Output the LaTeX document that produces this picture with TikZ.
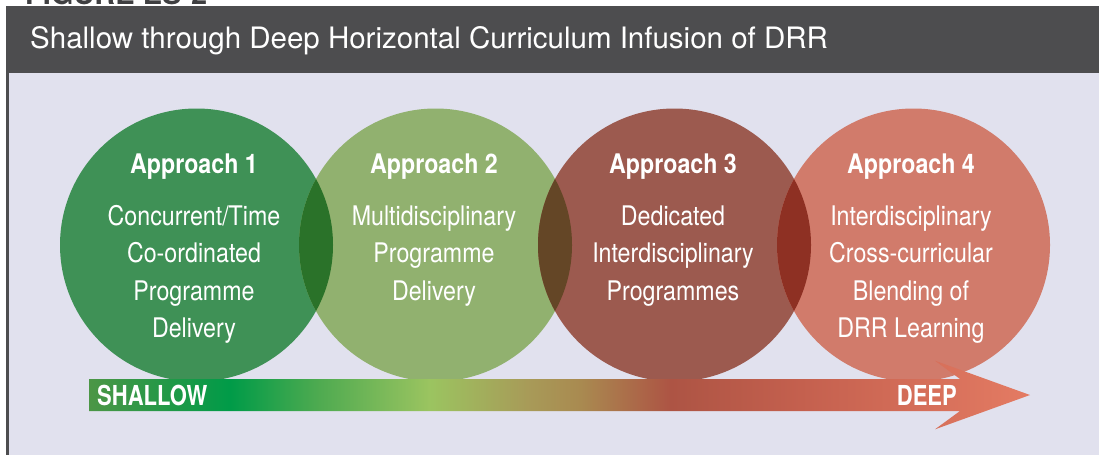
\documentclass[tikz,border=0pt]{standalone}
\usepackage{fontspec}
\setmainfont{TeX Gyre Heros}
\newfontfamily\condfont[FakeStretch=0.86]{TeX Gyre Heros}
\newfontfamily\barfont[FakeStretch=0.8]{TeX Gyre Heros}
\definecolor{hdr}{HTML}{4D4D4F}
\definecolor{bgl}{HTML}{E1E1EE}
\definecolor{figt}{HTML}{3F3F41}
\definecolor{cA}{HTML}{3F9156}
\definecolor{cB}{HTML}{91B16F}
\definecolor{cC}{HTML}{9C5A4F}
\definecolor{cD}{HTML}{D17B6B}
\definecolor{oAB}{HTML}{2A7229}
\definecolor{oBC}{HTML}{644626}
\definecolor{oCD}{HTML}{8E3023}
\definecolor{g0}{HTML}{4C9646}
\definecolor{g1}{HTML}{009B48}
\definecolor{g2}{HTML}{4DAA50}
\definecolor{g3}{HTML}{9BC460}
\definecolor{g4}{HTML}{A89A58}
\definecolor{g5}{HTML}{A98A50}
\definecolor{g6}{HTML}{AD5444}
\definecolor{g7}{HTML}{C4604E}
\definecolor{g8}{HTML}{E47B63}
\pgfdeclarehorizontalshading{depthshade}{100bp}{color(0bp)=(g0); color(25bp)=(g0); color(32.5bp)=(g1); color(37.1bp)=(g2); color(43.1bp)=(g3); color(48.4bp)=(g4); color(51.1bp)=(g5); color(55.9bp)=(g6); color(62.8bp)=(g7); color(75bp)=(g8); color(100bp)=(g8)}
\tikzset{
  bubble/.style={circle, minimum size=273pt, inner sep=0pt},
  headtxt/.style={text=white, anchor=base, inner sep=0pt, font=\condfont\bfseries\fontsize{27}{30}\selectfont},
  bodytxt/.style={text=white, anchor=base, inner sep=0pt, font=\condfont\fontsize{27}{30}\selectfont},
  bartxt/.style={text=white, inner sep=0pt, font=\barfont\bfseries\fontsize{27.5}{30}\selectfont}
}
\begin{document}
\begin{tikzpicture}[x=1pt,y=-1pt]
\useasboundingbox (0,0) rectangle (1099,455);
\clip (0,0) rectangle (1099,455);
\fill[white] (0,0) rectangle (1099,455);
% figure label (cut off at top, as in the reference)
\node[text=figt, anchor=base west, inner sep=0pt, font=\bfseries\fontsize{29}{30}\selectfont] (figlabel) at (25,4.5) {FIGURE ES-2};
% header
\fill[hdr] (6,6) rectangle (1099,72.5);
\node[text=white, anchor=base west, inner sep=0pt, font=\fontsize{29.5}{30}\selectfont] (title) at (30,48) {Shallow through Deep Horizontal Curriculum Infusion of DRR};
\fill[hdr] (6,72.5) rectangle (9,455);
\fill[bgl] (9,72.5) rectangle (1099,455);
% circles
\node[bubble, fill=cA] (c1) at (196.5,245) {};
\node[bubble, fill=cB] (c2) at (435.5,245) {};
\node[bubble, fill=cC] (c3) at (674.5,245) {};
\node[bubble, fill=cD] (c4) at (913.5,245) {};
\begin{scope}
  \clip (c1.center) circle (136.5pt);
  \fill[oAB] (c2.center) circle (136.5pt);
\end{scope}
\begin{scope}
  \clip (c2.center) circle (136.5pt);
  \fill[oBC] (c3.center) circle (136.5pt);
\end{scope}
\begin{scope}
  \clip (c3.center) circle (136.5pt);
  \fill[oCD] (c4.center) circle (136.5pt);
\end{scope}
% texts
\node[headtxt] (h1) at (194,173) {Approach 1};
\node[bodytxt] (t1a) at (194,225) {Concurrent/Time};
\node[bodytxt] (t1b) at (194,262.5) {Co-ordinated};
\node[bodytxt] (t1c) at (194,300) {Programme};
\node[bodytxt] (t1d) at (194,337.5) {Delivery};
\node[headtxt] (h2) at (434,173) {Approach 2};
\node[bodytxt] (t2a) at (434,225) {Multidisciplinary};
\node[bodytxt] (t2b) at (434,262.5) {Programme};
\node[bodytxt] (t2c) at (434,300) {Delivery};
\node[headtxt] (h3) at (673,173) {Approach 3};
\node[bodytxt] (t3a) at (673,225) {Dedicated};
\node[bodytxt] (t3b) at (673,262.5) {Interdisciplinary};
\node[bodytxt] (t3c) at (673,300) {Programmes};
\node[headtxt] (h4) at (911,173) {Approach 4};
\node[bodytxt] (t4a) at (911,225) {Interdisciplinary};
\node[bodytxt] (t4b) at (911,262.5) {Cross-curricular};
\node[bodytxt] (t4c) at (911,300) {Blending of};
\node[bodytxt] (t4d) at (911,337.5) {DRR Learning};
% depth arrow
\shade[shading=depthshade] (89,379) -- (960,379) -- (935,360.7) -- (1030,395) -- (935,429.3) -- (960,411) -- (89,411) -- cycle;
\node[bartxt, anchor=base west] (shallow) at (97,405) {SHALLOW};
\node[bartxt, anchor=base east] (deep) at (957,405) {DEEP};
\end{tikzpicture}
\end{document}
